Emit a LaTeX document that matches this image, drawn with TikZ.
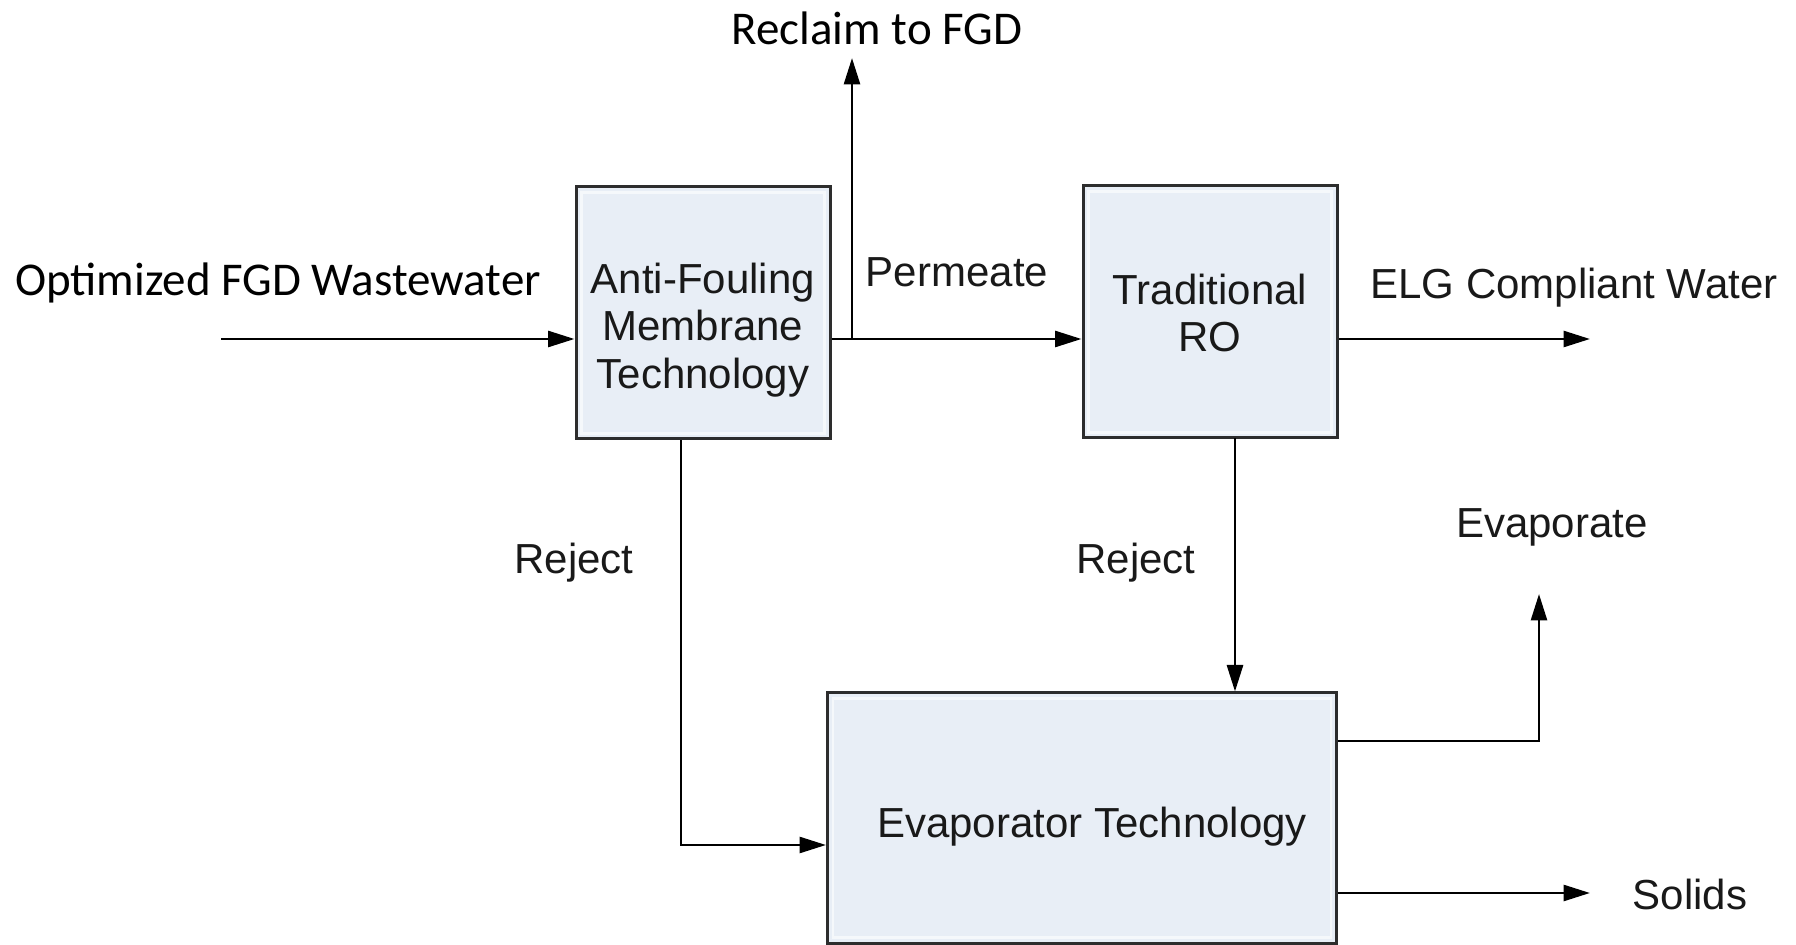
\documentclass[tikz,border=0pt]{standalone}
\usepackage{fontspec}
\newfontfamily\arialf{Liberation Sans}
\newfontfamily\calibf{Carlito}
\usetikzlibrary{arrows.meta,calc}
\definecolor{boxfill}{RGB}{232,238,246}
\definecolor{boxedge}{RGB}{45,45,45}
\definecolor{inktext}{RGB}{25,25,25}
\tikzset{
  procbox/.style={draw=boxedge,line width=1.2pt,fill=boxfill,inner sep=0pt},
  boxtext/.style={font=\arialf\fontsize{16.8}{19}\selectfont,text=inktext,align=center},
  flowlbl/.style={font=\arialf\fontsize{16.8}{19}\selectfont,text=inktext},
  sidelbl/.style={font=\calibf\fontsize{18.8}{22}\selectfont,text=black},
  flow/.style={line width=1.1pt,draw=black},
  flowarrow/.style={flow,-{Triangle[length=10.6pt,width=6.4pt]}}
}
\begin{document}
\begin{tikzpicture}[x=0.4pt,y=-0.4pt]
  \useasboundingbox (0,0) rectangle (1796,945);

  % process boxes
  \node[procbox,minimum width=101.6pt,minimum height=100.8pt] (A) at (703,313) {};
  \node[procbox,minimum width=101.6pt,minimum height=100.8pt] (B) at (1210,312) {};
  \node[procbox,minimum width=203.6pt,minimum height=100pt] (C) at (1082,818) {};
  \foreach \b in {A,B,C}{
    \draw[white,opacity=0.6,line width=1pt]
      ($(\b.north west)+(7,7)$) rectangle ($(\b.south east)+(-7,-7)$);
  }

  % box captions
  \node[boxtext] (Atxt) at (703,330) {Anti-Fouling\\Membrane\\Technology};
  \node[boxtext] (Btxt) at (1210,313) {Traditional\\RO};
  \node[boxtext] (Ctxt) at (1092,827) {Evaporator Technology};

  % stream end points
  \coordinate (in) at (221,339);
  \coordinate (jn) at (852,339);
  \coordinate (reclaim) at (852,58);
  \coordinate (elg) at (1590,339);
  \coordinate (bdrop) at (1235,438);
  \coordinate (acorner) at (681,845);
  \coordinate (evapc) at (1539,741);
  \coordinate (evap) at (1539,594);
  \coordinate (solids) at (1590,893);

  % flows
  \draw[flowarrow] (in) -- (in -| A.west);
  \draw[flowarrow] (in -| A.east) -- (in -| B.west);
  \draw[flowarrow] (jn) -- (reclaim);
  \draw[flowarrow] (in -| B.east) -- (elg);
  \draw[flowarrow] (bdrop) -- (bdrop |- C.north);
  \draw[flowarrow] (acorner |- A.south) -- (acorner) -- (acorner -| C.west);
  \draw[flowarrow] (evapc -| C.east) -- (evapc) -- (evap);
  \draw[flowarrow] (solids -| C.east) -- (solids);

  % stream labels
  \node[sidelbl] (lfeed) at (278,283) {Optimized FGD Wastewater};
  \node[sidelbl] (lreclaim) at (877,28) {Reclaim to FGD};
  \node[flowlbl] (lperm) at (957,272) {Permeate};
  \node[flowlbl] (lelg) at (1574,288) {ELG Compliant Water};
  \node[flowlbl] (lrej1) at (574,563) {Reject};
  \node[flowlbl] (lrej2) at (1136,563) {Reject};
  \node[flowlbl] (levap) at (1552,527) {Evaporate};
  \node[flowlbl] (lsolids) at (1690,894) {Solids};
\end{tikzpicture}
\end{document}
